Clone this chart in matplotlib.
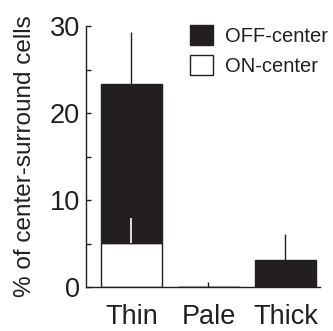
import matplotlib
matplotlib.use('Agg')
import matplotlib.pyplot as plt
from matplotlib.ticker import MultipleLocator
import numpy as np

categories = ['Thin', 'Pale', 'Thick']
on_center = [5.1, 0.0, 0.0]
off_center = [18.3, 0.0, 3.1]   # stacked above ON-center
off_err_up = [5.9, 0.0, 2.95]
on_err_up = [2.8, 0.0, 0.0]

ink = '#231f20'
plt.rcParams['font.family'] = ['Liberation Sans', 'DejaVu Sans']
plt.rcParams['text.color'] = ink
plt.rcParams['axes.labelcolor'] = ink
plt.rcParams['xtick.color'] = ink
plt.rcParams['ytick.color'] = ink

fig = plt.figure(figsize=(3.33, 3.31), dpi=100)
ax = fig.add_axes([0.257, 0.133, 0.704, 0.788])

x = np.arange(len(categories))
w = 0.8
on_tot = np.array(on_center)
off_tot = on_tot + np.array(off_center)

ax.bar(x, on_center, width=w, color='white', edgecolor=ink, linewidth=1.0,
       label='ON-center', zorder=2)
ax.bar(x, off_center, bottom=on_center, width=w, color=ink, edgecolor=ink,
       linewidth=1.0, label='OFF-center', zorder=2)

ax.errorbar(x, off_tot, yerr=[np.zeros(3), off_err_up], fmt='none',
            ecolor=ink, elinewidth=1.0, capsize=0, zorder=3)
ax.errorbar(x, on_tot, yerr=[np.zeros(3), on_err_up], fmt='none',
            ecolor='white', elinewidth=1.2, capsize=0, zorder=3)

ax.set_xlim(-0.595, 2.448)
ax.set_ylim(0, 30)
ax.set_xticks(x)
ax.set_xticklabels(categories)
ax.yaxis.set_major_locator(MultipleLocator(10))
ax.yaxis.set_minor_locator(MultipleLocator(5))
ax.tick_params(axis='both', which='both', direction='in', length=3.5, width=1.0,
               labelsize=19.5)
ax.tick_params(axis='y', pad=4)
ax.tick_params(axis='x', pad=12)
ax.tick_params(axis='x', which='minor', length=0)
ax.set_axisbelow(True)
for s in ['top', 'right']:
    ax.spines[s].set_visible(False)
for s in ['left', 'bottom']:
    ax.spines[s].set_color(ink)
    ax.spines[s].set_linewidth(1.0)

ax.set_ylabel('% of center-surround cells', fontsize=17.5, labelpad=10)

handles, labels = ax.get_legend_handles_labels()
leg = ax.legend(handles[::-1], labels[::-1], loc='upper left',
                bbox_to_anchor=(190 / 333, 1 - 25 / 331),
                bbox_transform=fig.transFigure, frameon=False, fontsize=14.5,
                handlelength=1.15, handleheight=1.15, handletextpad=0.6,
                labelspacing=0.45, borderpad=0, borderaxespad=0)

fig.savefig('out.png', dpi=100)
